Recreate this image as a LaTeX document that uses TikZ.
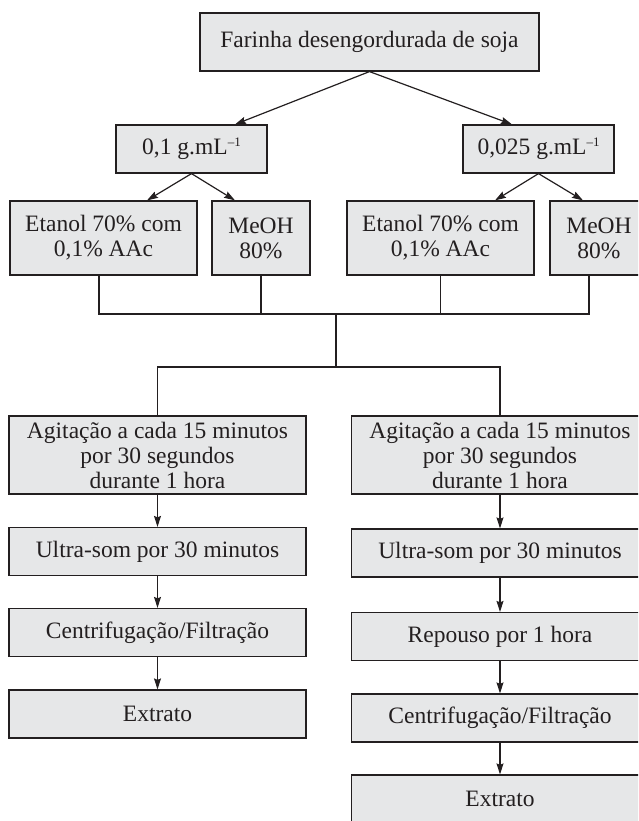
\documentclass[tikz,border=0pt]{standalone}
\usepackage{fontspec}
\setmainfont{Liberation Serif}
\usetikzlibrary{arrows.meta}
\definecolor{boxgray}{HTML}{E6E7E8}
\definecolor{linegray}{HTML}{231F20}
\newcommand{\invml}{g.mL\raisebox{8pt}{\fontsize{13}{13}\selectfont –1}}

\begin{document}
\begin{tikzpicture}[x=1pt, y=-1pt,
        box/.style={draw=linegray, fill=boxgray, line width=1.2pt, inner sep=0pt, align=center,
                    text=linegray, font=\fontsize{23.5}{25}\selectfont},
        arr/.style={draw=linegray, line width=1.2pt, -{Stealth[length=11pt, width=7pt, inset=1.5pt]}},
        conn/.style={draw=linegray, line width=1.2pt}]
        \clip (0,0) rectangle (638,821);
        % topo
        \node[box, minimum width=339pt, minimum height=58pt] (farinha) at (369.5,42) {Farinha desengordurada de soja};
        \node[box, minimum width=151pt, minimum height=48pt] (conc1) at (191.5,149) {0,1 \invml};
        \node[box, minimum width=151pt, minimum height=48pt] (conc2) at (538.5,149) {0,025 \invml};
        \node[box, minimum width=187pt, minimum height=74pt] (etanol1) at (103.5,238) {Etanol 70\% com\\0,1\% AAc};
        \node[box, minimum width=98pt, minimum height=74pt] (meoh1) at (261,238) {MeOH\\80\%};
        \node[box, minimum width=187pt, minimum height=74pt] (etanol2) at (440.5,238) {Etanol 70\% com\\0,1\% AAc};
        \node[box, minimum width=98pt, minimum height=74pt] (meoh2) at (599,238) {MeOH\\80\%};
        \draw[arr] (farinha.south) -- ([xshift=43.5pt]conc1.north);
        \draw[arr] (farinha.south) -- ([xshift=-26.5pt]conc2.north);
        \draw[arr] (conc1.south) -- ([xshift=43.5pt]etanol1.north);
        \draw[arr] (conc1.south) -- ([xshift=-26pt]meoh1.north);
        \draw[arr] (conc2.south) -- ([xshift=54.5pt]etanol2.north);
        \draw[arr] (conc2.south) -- ([xshift=-16pt]meoh2.north);
        % juncao
        \coordinate (join) at (336,314);
        \coordinate (split) at (336,367);
        \draw[conn] ([xshift=-4.5pt]etanol1.south) |- ([xshift=-10pt]meoh2.south |- join) -- ([xshift=-10pt]meoh2.south);
        \draw[conn] (meoh1.south) -- (meoh1.south |- join);
        \draw[conn] (etanol2.south) -- (etanol2.south |- join);
        \draw[conn] (join) -- (split);
        % colunas
        \node[box, minimum width=297pt, minimum height=78pt] (agit1) at (157.5,455) {Agitação a cada 15 minutos\\por 30 segundos\\durante 1 hora};
        \node[box, minimum width=297pt, minimum height=48pt] (ultra1) at (157.5,551.5) {Ultra-som por 30 minutos};
        \node[box, minimum width=297pt, minimum height=48pt] (centr1) at (157.5,632.5) {Centrifugação/Filtração};
        \node[box, minimum width=297pt, minimum height=48pt] (extr1) at (157.5,714) {Extrato};
        \node[box, minimum width=297pt, minimum height=78pt] (agit2) at (500,455) {Agitação a cada 15 minutos\\por 30 segundos\\durante 1 hora};
        \node[box, minimum width=297pt, minimum height=48pt] (ultra2) at (500,553) {Ultra-som por 30 minutos};
        \node[box, minimum width=297pt, minimum height=48pt] (repouso2) at (500,636.5) {Repouso por 1 hora};
        \node[box, minimum width=297pt, minimum height=48pt] (centr2) at (500,718) {Centrifugação/Filtração};
        \node[box, minimum width=297pt, minimum height=48pt] (extr2) at (500,799) {Extrato};
        \draw[conn] (agit1.north) -- (agit1.north |- split) -- (agit2.north |- split) -- (agit2.north);
        \draw[arr] (agit1.south) -- (ultra1.north);
        \draw[arr] (ultra1.south) -- (centr1.north);
        \draw[arr] (centr1.south) -- (extr1.north);
        \draw[arr] (agit2.south) -- (ultra2.north);
        \draw[arr] (ultra2.south) -- (repouso2.north);
        \draw[arr] (repouso2.south) -- (centr2.north);
        \draw[arr] (centr2.south) -- (extr2.north);
\end{tikzpicture}
\end{document}
